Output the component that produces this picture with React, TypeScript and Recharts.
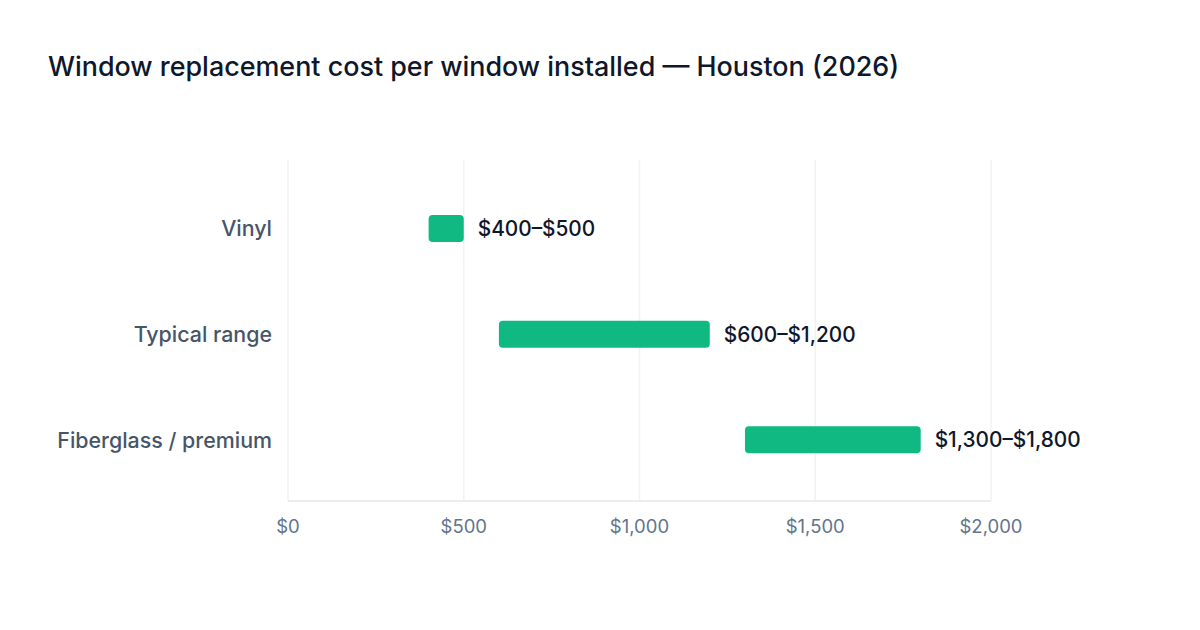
import { Bar, BarChart, CartesianGrid, LabelList, XAxis, YAxis } from 'recharts'

const categories = ['Vinyl', 'Typical range', 'Fiberglass / premium']
const lowValues = [400, 600, 1300]
const highValues = [500, 1200, 1800]
const xTicks = [0, 500, 1000, 1500, 2000]

const money = (v: number) => `$${v.toLocaleString('en-US')}`

const data = categories.map((name, i) => ({
  name,
  range: [lowValues[i], highValues[i]],
  label: `${money(lowValues[i])}–${money(highValues[i])}`,
}))

const font = 'Inter, "Liberation Sans", Arial, sans-serif'

export default function App() {
  return (
    <div
      style={{
        position: 'fixed',
        top: 0,
        left: 0,
        width: 1200,
        height: 630,
        background: '#ffffff',
        fontFamily: font,
      }}
    >
      <div
        style={{
          position: 'absolute',
          left: 48,
          top: 50,
          fontSize: 26.9,
          fontWeight: 500,
          color: '#0f172a',
          whiteSpace: 'nowrap',
        }}
      >
        Window replacement cost per window installed — Houston (2026)
      </div>
      <div style={{ position: 'absolute', top: 0, left: 0 }}>
        <BarChart
          width={1200}
          height={630}
          data={data}
          layout="vertical"
          margin={{ top: 160, right: 209, bottom: 89, left: 0 }}
        >
          <CartesianGrid horizontal={false} stroke="#f1f2f4" strokeWidth={1.5} />
          <XAxis
            type="number"
            domain={[0, 2000]}
            ticks={xTicks}
            tickFormatter={money}
            height={40}
            tickLine={false}
            tickSize={0}
            tickMargin={19}
            axisLine={{ stroke: '#e5e7eb', strokeWidth: 1.5 }}
            tick={{ fill: '#64748b', fontSize: 18.5, fontFamily: font }}
          />
          <YAxis
            type="category"
            dataKey="name"
            width={288}
            axisLine={false}
            tickLine={false}
            tickSize={0}
            tickMargin={16}
            padding={{ top: 16, bottom: 8 }}
            tick={{ fill: '#475569', fontSize: 21.4, fontWeight: 500, fontFamily: font }}
          />
          <Bar
            dataKey="range"
            fill="#10b981"
            barSize={27}
            radius={4}
            isAnimationActive={false}
          >
            <LabelList
              dataKey="label"
              position="right"
              offset={14}
              style={{ fill: '#0f172a', fontSize: 20.8, fontWeight: 500, fontFamily: font }}
            />
          </Bar>
        </BarChart>
      </div>
    </div>
  )
}
